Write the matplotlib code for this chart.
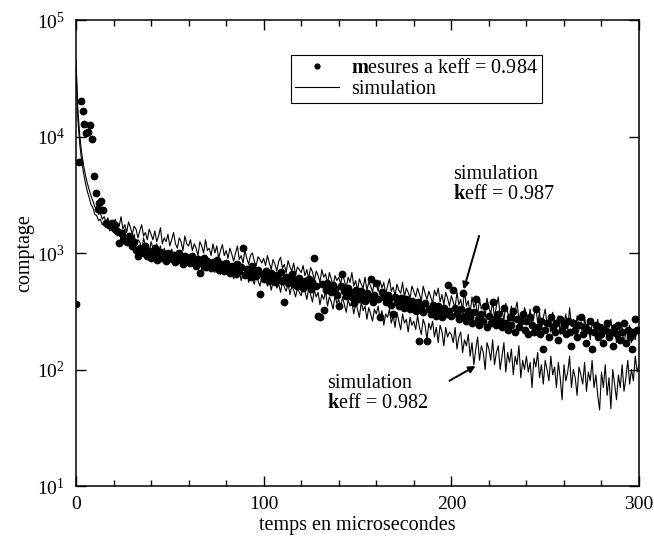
import numpy as np
import matplotlib
matplotlib.use("Agg")
import matplotlib.pyplot as plt
from matplotlib.ticker import MultipleLocator, NullLocator, FixedLocator
from matplotlib.legend_handler import HandlerLine2D
from matplotlib.lines import Line2D

plt.rcParams['font.family'] = ['Liberation Serif', 'DejaVu Serif']
plt.rcParams['mathtext.fontset'] = 'custom'
plt.rcParams['mathtext.rm'] = 'Liberation Serif'
plt.rcParams['mathtext.it'] = 'Liberation Serif:italic'
plt.rcParams['mathtext.bf'] = 'Liberation Serif:bold'

# simulation keff = 0.987 (un point par microseconde, t = 0..300)
sim_987 = [
    45000, 17000, 10200, 7300, 5700, 4700, 4000, 3500, 3100, 2800, 2500, 2400, 2150, 2200, 1950, 2050, 1850, 2000, 1750, 1900,
    1800, 1950, 1650, 1700, 2050, 1600, 1750, 1500, 1850, 1650, 1450, 1700, 1600, 1350, 1550, 1750, 1400, 1500, 1300, 1600,
    1450, 1300, 1550, 1250, 1400, 1650, 1200, 1350, 1250, 1450, 1150, 1300, 1500, 1200, 1100, 1350, 1250, 1050, 1400, 1200,
    1150, 1300, 1050, 1200, 1100, 950, 1250, 1150, 1000, 1300, 1050, 1100, 950, 1200, 1000, 1150, 900, 1050, 1180, 950,
    1050, 900, 1100, 980, 850, 1000, 1150, 880, 950, 820, 1050, 900, 800, 960, 1000, 850, 780, 930, 880, 820,
    900, 780, 950, 830, 720, 880, 800, 700, 850, 920, 740, 800, 680, 860, 760, 700, 820, 650, 760, 720,
    680, 780, 640, 720, 600, 750, 690, 580, 700, 640, 560, 720, 620, 660, 540, 680, 600, 520, 640, 580,
    620, 540, 660, 580, 500, 620, 560, 680, 520, 580, 480, 600, 540, 500, 620, 480, 560, 520, 460, 580,
    540, 470, 580, 500, 560, 440, 520, 600, 470, 510, 430, 540, 480, 450, 560, 420, 500, 460, 410, 520,
    470, 420, 500, 440, 390, 520, 450, 400, 470, 420, 370, 480, 430, 500, 380, 440, 360, 460, 410, 350,
    430, 380, 340, 460, 360, 400, 320, 480, 350, 390, 300, 420, 340, 380, 290, 400, 330, 360, 280, 410,
    340, 300, 380, 280, 350, 420, 290, 330, 260, 370, 310, 270, 350, 240, 320, 380, 270, 300, 250, 340,
    300, 260, 330, 230, 290, 350, 250, 310, 220, 280, 330, 240, 270, 210, 310, 260, 230, 290, 200, 280,
    250, 300, 220, 340, 240, 270, 200, 290, 230, 250, 190, 280, 220, 260, 180, 250, 230, 200, 270, 190,
    240, 210, 260, 180, 230, 270, 190, 220, 170, 250, 200, 230, 160, 220, 190, 240, 170, 210, 180, 230, 200,
]

# simulation keff = 0.982
sim_982 = [
    40000, 14000, 8600, 6200, 4900, 4000, 3400, 3000, 2600, 2450, 2150, 2100, 1900, 1950, 1750, 1800, 1650, 1700, 1550, 1600,
    1500, 1650, 1400, 1550, 1300, 1450, 1600, 1250, 1400, 1350, 1200, 1450, 1150, 1300, 1250, 1050, 1350, 1150, 1200, 1000,
    1250, 1100, 980, 1200, 1050, 1150, 900, 1100, 1000, 1050, 880, 1080, 950, 850, 1050, 900, 980, 820, 950, 880,
    800, 950, 870, 760, 920, 820, 880, 720, 860, 780, 700, 880, 760, 820, 680, 800, 740, 650, 780, 700,
    760, 640, 720, 680, 600, 760, 650, 700, 580, 680, 620, 720, 560, 650, 600, 540, 680, 580, 520, 620,
    570, 640, 520, 600, 480, 560, 620, 500, 540, 460, 580, 510, 470, 550, 440, 520, 480, 420, 500, 460,
    430, 520, 470, 400, 500, 440, 380, 480, 420, 460, 360, 440, 400, 470, 350, 420, 380, 330, 430, 370,
    400, 340, 420, 360, 310, 400, 350, 380, 300, 370, 330, 280, 380, 320, 350, 270, 340, 300, 260, 330,
    300, 350, 270, 320, 240, 300, 280, 330, 250, 290, 230, 310, 260, 220, 300, 250, 270, 210, 280, 240,
    260, 220, 290, 230, 200, 270, 240, 180, 250, 220, 260, 190, 230, 170, 240, 210, 160, 230, 190, 210,
    200, 170, 230, 150, 190, 210, 140, 180, 160, 200, 130, 170, 110, 150, 190, 120, 160, 140, 100, 170,
    150, 120, 180, 110, 140, 160, 100, 130, 170, 95, 140, 115, 150, 90, 130, 110, 160, 85, 120, 100,
    130, 95, 115, 70, 125, 105, 140, 85, 110, 75, 120, 100, 80, 130, 90, 105, 70, 115, 85, 55,
    110, 80, 95, 130, 70, 100, 85, 60, 105, 90, 75, 115, 65, 95, 80, 120, 70, 90, 60, 45,
    95, 70, 110, 60, 85, 46, 100, 75, 55, 90, 70, 110, 65, 85, 120, 75, 100, 80, 130, 95, 110,
]

# mesures keff = 0.984 : debut (pas irregulier)
mes_t_debut = [0, 1.8, 2.7, 3.5, 4.4, 5.3, 6.2, 7.5, 8.5, 9.8, 10.7, 11.5, 12.1, 13.3, 14.2, 16, 17.6]
mes_v_debut = [365, 6000, 20000, 16600, 12900, 10700, 11000, 12600, 9500, 4600, 3300, 2400, 2700, 2800, 2350, 1800, 1750]

# mesures a partir de t = 19, un point par microseconde
mes_t0 = 19
mes_v = [
    1800, 1650, 1750, 1550, 1220, 1480, 1300, 1350, 1250, 1400, 1330, 1150, 1250, 1060, 940, 1100, 1020, 1000, 1150, 950,
    1050, 910, 980, 1100, 870, 950, 1020, 900, 980, 850, 1000, 920, 880, 960, 830, 910, 1000, 870, 800, 940,
    860, 900, 820, 950, 840, 780, 880, 670, 820, 900, 760, 850, 800, 740, 830, 780, 870, 720, 800, 760,
    700, 820, 740, 680, 780, 720, 660, 800, 700, 760, 1100, 650, 730, 690, 620, 780, 680, 640, 720, 445,
    660, 600, 700, 630, 580, 680, 620, 560, 650, 600, 690, 570, 380, 620, 550, 600, 660, 540, 590, 520,
    610, 560, 500, 580, 530, 600, 490, 560, 910, 520, 290, 280, 540, 325, 480, 550, 500, 460, 530, 490,
    440, 350, 520, 660, 470, 430, 500, 460, 420, 370, 480, 440, 400, 470, 430, 390, 450, 410, 600, 380,
    440, 550, 400, 280, 460, 420, 380, 440, 400, 360, 300, 420, 380, 350, 410, 370, 340, 400, 360, 330,
    390, 350, 320, 380, 175, 340, 310, 370, 175, 330, 300, 360, 320, 290, 350, 310, 280, 340, 300, 530,
    320, 290, 480, 340, 300, 270, 330, 450, 290, 260, 320, 280, 250, 310, 400, 270, 240, 300, 260, 350,
    230, 290, 250, 380, 270, 240, 300, 260, 230, 340, 250, 220, 280, 240, 320, 210, 270, 230, 260, 300,
    220, 260, 200, 280, 240, 210, 330, 230, 200, 260, 150, 220, 250, 190, 280, 230, 210, 250, 180, 270,
    220, 240, 200, 260, 210, 160, 250, 220, 190, 240, 280, 200, 230, 170, 220, 260, 150, 210, 240, 190,
    230, 200, 170, 220, 250, 190, 210, 160, 230, 200, 240, 180, 210, 250, 170, 220, 190, 150, 210, 270, 220,
]

x_ticks = [0, 100, 200, 300]
y_ticks = [1e1, 1e2, 1e3, 1e4, 1e5]


class DotAtRight(HandlerLine2D):
    # met le point a droite de la zone du symbole, comme dans l'original
    def get_xdata(self, legend, xdescent, ydescent, width, height, fontsize):
        xd, _ = super().get_xdata(legend, xdescent, ydescent, width, height, fontsize)
        return xd, [-xdescent + 0.95 * width]


def plot_comptage(output_path="out.png"):
    fig = plt.figure(figsize=(6.54, 5.44), dpi=100)
    ax = fig.add_axes([0.1162, 0.1066, 0.8609, 0.8566])

    t987 = np.arange(len(sim_987))
    t982 = np.arange(len(sim_982))
    ax.plot(t987, sim_987, color='black', lw=0.8, zorder=2)
    ax.plot(t982, sim_982, color='black', lw=0.8, zorder=2)

    mes_t = np.concatenate([mes_t_debut, np.arange(mes_t0, mes_t0 + len(mes_v))])
    mes_all = np.concatenate([mes_v_debut, mes_v])
    ax.plot(mes_t, mes_all, 'o', color='black', ms=5.6, mew=0, zorder=3)

    ax.set_yscale('log')
    ax.set_xlim(0, 300)
    ax.set_ylim(1e1, 1e5)
    ax.xaxis.set_major_locator(FixedLocator(x_ticks))
    ax.xaxis.set_minor_locator(MultipleLocator(20))
    ax.yaxis.set_major_locator(FixedLocator(y_ticks))
    ax.yaxis.set_minor_locator(NullLocator())
    ax.tick_params(which='both', direction='in', top=True, right=True, width=1)
    ax.tick_params(which='major', length=7, labelsize=14)
    ax.tick_params(axis='x', which='major', pad=7)
    ax.tick_params(axis='y', which='major', pad=8)
    ax.tick_params(which='minor', length=4)
    for s in ax.spines.values():
        s.set_linewidth(1.1)

    ax.set_xlabel("temps en microsecondes", fontsize=14.5, labelpad=2)
    ax.set_ylabel("comptage", fontsize=14.5, labelpad=2)

    # legende
    h_mes = Line2D([], [], marker='o', ls='none', color='black', ms=4.5, mew=0)
    h_sim = Line2D([], [], color='black', lw=0.8)
    leg = ax.legend([h_mes, h_sim], [r"$\mathbf{m}$esures a keff = 0.984", "simulation"],
                    loc='upper left', bbox_to_anchor=(0.382, 0.925), borderaxespad=0,
                    fontsize=14.5, handlelength=2.2, handletextpad=0.6, labelspacing=0.1,
                    borderpad=0.2, fancybox=False, framealpha=1, edgecolor='black',
                    handler_map={h_mes: DotAtRight(numpoints=1)})
    leg.get_frame().set_linewidth(0.8)

    # annotations
    ax.text(201, 3900, "simulation\n" + r"$\mathbf{k}$eff = 0.987", fontsize=14.5,
            ha='left', va='center', linespacing=1.05)
    ax.annotate("", xy=(206.2, 462), xytext=(215.2, 1480),
                arrowprops=dict(arrowstyle='-|>', color='black', lw=1.4, mutation_scale=10))
    ax.text(133.7, 62, "simulation\n" + r"$\mathbf{k}$eff = 0.982", fontsize=14.5,
            ha='left', va='center', linespacing=1.05)
    ax.annotate("", xy=(214.2, 110), xytext=(197.7, 78),
                arrowprops=dict(arrowstyle='-|>', color='black', lw=1.4, mutation_scale=10))

    fig.savefig(output_path, dpi=100, facecolor='white')


if __name__ == "__main__":
    plot_comptage()
